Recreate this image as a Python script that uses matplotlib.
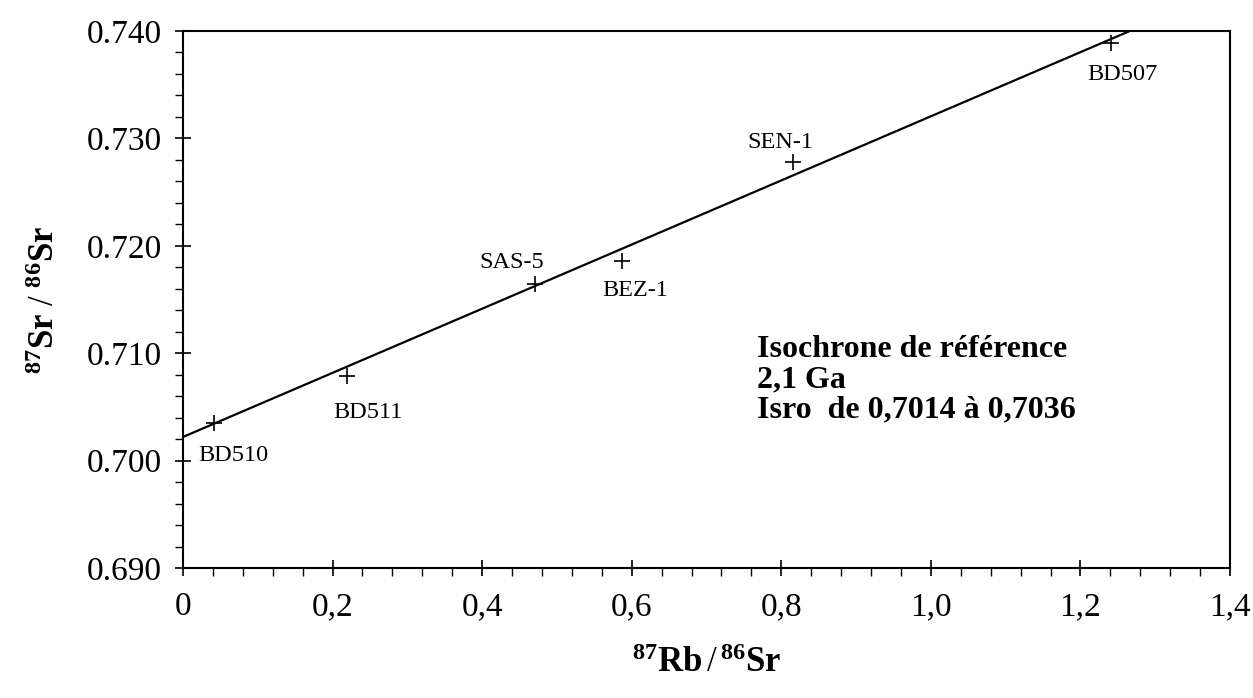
import matplotlib
matplotlib.use("Agg")
import matplotlib.pyplot as plt
from matplotlib.ticker import MultipleLocator, FixedLocator

# ---- data ----
samples = ["BD510", "BD511", "SAS-5", "BEZ-1", "SEN-1", "BD507"]
rb_sr = [0.041, 0.219, 0.471, 0.587, 0.816, 1.241]
sr_sr = [0.7035, 0.7079, 0.7164, 0.7186, 0.7278, 0.7389]

iso_x = [0.0, 1.266]
iso_y = [0.7022, 0.7400]

x_ticks = [0.0, 0.2, 0.4, 0.6, 0.8, 1.0, 1.2, 1.4]
x_tick_labels = ["0", "0,2", "0,4", "0,6", "0,8", "1,0", "1,2", "1,4"]
y_ticks = [0.690, 0.700, 0.710, 0.720, 0.730, 0.740]
y_tick_labels = ["0.690", "0.700", "0.710", "0.720", "0.730", "0.740"]

info_lines = ["Isochrone de référence", "2,1 Ga", "Isro  de 0,7014 à 0,7036"]

# label offsets (pixels) relative to each point
label_offsets = {
    "BD510": (20, -32),
    "BD511": (21, -37),
    "SAS-5": (-23, 22),
    "BEZ-1": (13, -30),
    "SEN-1": (-13, 20),
    "BD507": (11, -32),
}

plt.rcParams["font.family"] = ["Liberation Serif", "DejaVu Serif"]
plt.rcParams["mathtext.fontset"] = "custom"
plt.rcParams["mathtext.rm"] = "Liberation Serif"
plt.rcParams["mathtext.bf"] = "Liberation Serif:bold"
plt.rcParams["mathtext.it"] = "Liberation Serif:italic"

fig = plt.figure(figsize=(12.53, 6.98), dpi=100)
W, H = 1253, 698
left, right, top, bottom = 183, 1230, 31, 568
ax = fig.add_axes([left / W, 1 - bottom / H, (right - left) / W, (bottom - top) / H])

ax.plot(iso_x, iso_y, color="black", lw=1.6, solid_capstyle="butt", clip_on=True)
ax.plot(rb_sr, sr_sr, linestyle="none", marker="+", markersize=12,
        markeredgewidth=1.2, color="black")

for name, x, y in zip(samples, rb_sr, sr_sr):
    dx, dy = label_offsets[name]
    ax.annotate(name, (x, y), xytext=(dx, dy), textcoords="offset pixels",
                ha="center", va="center", fontsize=17.5)

ax.set_xlim(0, 1.4)
ax.set_ylim(0.690, 0.740)

ax.xaxis.set_major_locator(FixedLocator(x_ticks))
ax.set_xticklabels(x_tick_labels)
ax.xaxis.set_minor_locator(MultipleLocator(0.04))
ax.yaxis.set_major_locator(FixedLocator(y_ticks))
ax.set_yticklabels(y_tick_labels)
ax.yaxis.set_minor_locator(MultipleLocator(0.002))

ax.tick_params(axis="both", which="major", direction="inout", length=12,
               width=1.2, labelsize=24)
ax.tick_params(axis="both", which="minor", direction="out", length=6, width=1.0)
ax.tick_params(axis="x", which="major", pad=11)
ax.tick_params(axis="y", which="major", pad=9)

for s in ax.spines.values():
    s.set_linewidth(1.5)

ax.set_xlabel(r"$^{\mathbf{87}}\mathbf{Rb}\,/\,^{\mathbf{86}}\mathbf{Sr}$",
              fontsize=25, labelpad=18)
ax.set_ylabel(r"$^{\mathbf{87}}\mathbf{Sr}\ /\ ^{\mathbf{86}}\mathbf{Sr}$",
              fontsize=25, labelpad=18)

ys = [0.406, 0.350, 0.294]
for t, yy in zip(info_lines, ys):
    ax.text(0.548, yy, t, transform=ax.transAxes, ha="left", va="center",
            fontsize=23, fontweight="bold")

fig.savefig("out.png", dpi=100)
